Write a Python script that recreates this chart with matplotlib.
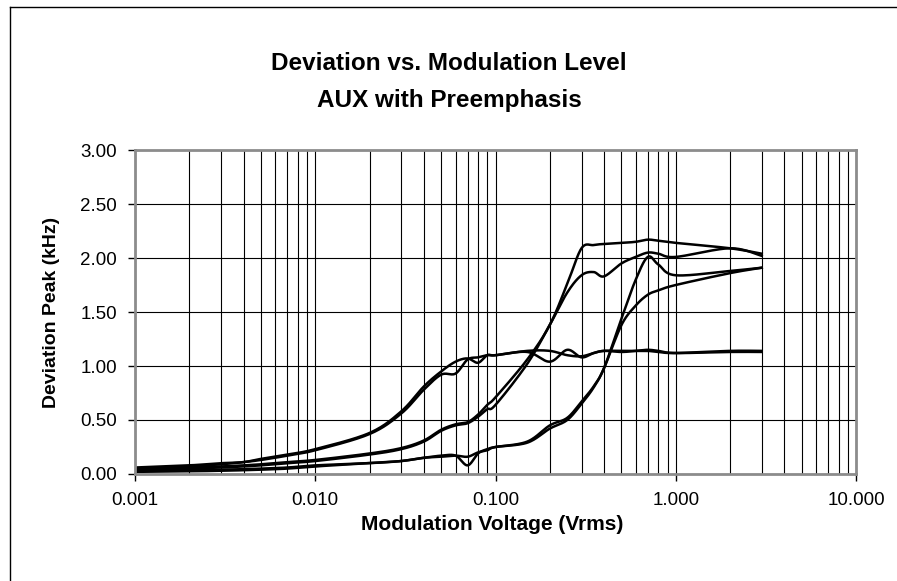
import numpy as np
import matplotlib
matplotlib.use('Agg')
from matplotlib import pyplot as plt
from matplotlib.ticker import FixedLocator, FormatStrFormatter, LogLocator, NullFormatter

# modulation voltage (Vrms), shared by all runs
volts = [0.001, 0.002, 0.003, 0.004, 0.005, 0.007, 0.01, 0.02, 0.03, 0.04, 0.05,
         0.06, 0.07, 0.08, 0.09, 0.1, 0.15, 0.2, 0.25, 0.3, 0.35, 0.4, 0.5, 0.6,
         0.7, 0.8, 1.0, 2.0, 3.0]

# deviation peak (kHz)
dev_a1 = [0.06, 0.08, 0.10, 0.11, 0.14, 0.18, 0.23, 0.38, 0.58, 0.81, 0.95, 1.04, 1.07,
          1.03, 1.10, 1.10, 1.14, 1.14, 1.10, 1.09, 1.12, 1.14, 1.13, 1.14, 1.15, 1.14,
          1.12, 1.13, 1.13]
dev_a2 = [0.05, 0.07, 0.09, 0.11, 0.13, 0.17, 0.22, 0.37, 0.56, 0.78, 0.92, 0.93, 1.06,
          1.08, 1.10, 1.10, 1.13, 1.04, 1.15, 1.08, 1.12, 1.14, 1.14, 1.14, 1.14, 1.13,
          1.12, 1.14, 1.14]
dev_b1 = [0.04, 0.06, 0.07, 0.08, 0.09, 0.11, 0.13, 0.19, 0.24, 0.31, 0.41, 0.46, 0.48,
          0.55, 0.64, 0.71, 1.06, 1.38, 1.76, 2.09, 2.12, 2.13, 2.14, 2.15, 2.17, 2.16,
          2.14, 2.09, 2.04]
dev_b2 = [0.03, 0.05, 0.06, 0.07, 0.08, 0.10, 0.12, 0.18, 0.23, 0.30, 0.40, 0.45, 0.47,
          0.53, 0.60, 0.64, 1.02, 1.38, 1.68, 1.84, 1.87, 1.83, 1.95, 2.01, 2.05, 2.04,
          2.01, 2.09, 2.02]
dev_c1 = [0.03, 0.035, 0.04, 0.045, 0.05, 0.06, 0.08, 0.10, 0.12, 0.15, 0.17, 0.17, 0.08,
          0.19, 0.23, 0.25, 0.30, 0.45, 0.52, 0.67, 0.81, 0.98, 1.44, 1.80, 2.01, 1.94,
          1.84, 1.88, 1.91]
dev_c2 = [0.02, 0.025, 0.03, 0.035, 0.04, 0.05, 0.07, 0.10, 0.12, 0.15, 0.16, 0.17, 0.16,
          0.20, 0.22, 0.25, 0.29, 0.42, 0.50, 0.65, 0.80, 0.98, 1.38, 1.56, 1.66, 1.70,
          1.75, 1.86, 1.91]

yticks = [0.0, 0.5, 1.0, 1.5, 2.0, 2.5, 3.0]
xticks = [0.001, 0.01, 0.1, 1.0, 10.0]


def smooth(x, y, n=24):
	# excel style smoothed line (catmull-rom through the points, log x)
	p = np.column_stack([np.log10(x), y])
	p = np.vstack([p[0], p, p[-1]])
	t = np.linspace(0, 1, n, endpoint=False)[:, None]
	out = []
	for i in range(1, len(p) - 2):
		p0, p1, p2, p3 = p[i - 1], p[i], p[i + 1], p[i + 2]
		out.append(0.5 * (2 * p1 + (p2 - p0) * t + (2 * p0 - 5 * p1 + 4 * p2 - p3) * t ** 2
						  + (3 * p1 - p0 - 3 * p2 + p3) * t ** 3))
	out.append(p[-2][None])
	out = np.vstack(out)
	return 10 ** out[:, 0], out[:, 1]


plt.rcParams['font.family'] = ['Liberation Sans', 'DejaVu Sans']

W, H = 897, 581
fig = plt.figure(figsize=(W / 100, H / 100), dpi=100)
ax = fig.add_axes([135 / W, 1 - 474 / H, (856 - 135) / W, (474 - 150) / H])

for dev in [dev_a1, dev_a2, dev_b1, dev_b2, dev_c1, dev_c2]:
	sx, sy = smooth(volts, dev)
	ax.plot(sx, sy, color='black', lw=1.8, solid_joinstyle='round')

ax.set_xscale('log')
ax.set_xlim(0.001, 10)
ax.set_ylim(0, 3)
ax.xaxis.set_major_locator(FixedLocator(xticks))
ax.xaxis.set_minor_locator(LogLocator(base=10, subs=np.arange(2, 10)))
ax.xaxis.set_minor_formatter(NullFormatter())
ax.xaxis.set_major_formatter(FormatStrFormatter('%.3f'))
ax.yaxis.set_major_locator(FixedLocator(yticks))
ax.yaxis.set_major_formatter(FormatStrFormatter('%.2f'))

ax.grid(True, which='major', color='black', lw=0.8)
ax.grid(True, which='minor', axis='x', color='black', lw=0.8)
ax.tick_params(which='major', direction='out', length=5, width=1, color='black',
			   labelsize=13.5, pad=8)
ax.tick_params(which='minor', length=0)
for s in ax.spines.values():
	s.set_color('#8c8c8c')
	s.set_linewidth(2)

fig.text(449 / W, 1 - 63 / H, 'Deviation vs. Modulation Level', ha='center', va='center',
		 fontsize=17.5, fontweight='bold')
fig.text(449 / W, 1 - 100 / H, 'AUX with Preemphasis', ha='center', va='center',
		 fontsize=17.5, fontweight='bold')
fig.text(492 / W, 1 - 524 / H, 'Modulation Voltage (Vrms)', ha='center', va='center',
		 fontsize=15, fontweight='bold')
fig.text(52 / W, 1 - 312 / H, 'Deviation Peak (kHz)', ha='center', va='center',
		 rotation=90, fontsize=14, fontweight='bold')

# chart area frame
fig.add_artist(plt.Line2D([10 / W, 1], [1 - 7 / H, 1 - 7 / H], color='black', lw=1))
fig.add_artist(plt.Line2D([10 / W, 10 / W], [0, 1 - 7 / H], color='black', lw=1))

fig.savefig('out.png', dpi=100)
